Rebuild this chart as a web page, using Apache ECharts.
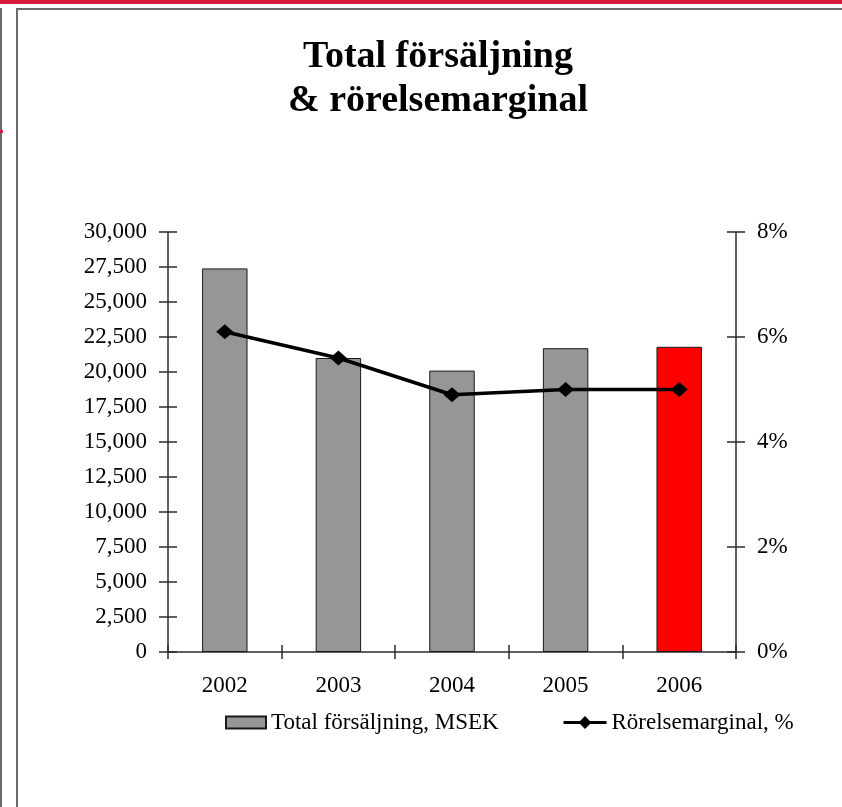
<!DOCTYPE html>
<html>
<head>
<meta charset="utf-8">
<script src="https://cdn.jsdelivr.net/npm/echarts@6/dist/echarts.min.js"></script>
<style>
  html, body { margin: 0; padding: 0; background: #ffffff; }
  #chart { width: 842px; height: 807px; }
</style>
</head>
<body>
<div id="chart"></div>
<script>
// ---- data ----
const categories = ['2002', '2003', '2004', '2005', '2006'];
const salesMSEK = [27400, 21000, 20100, 21700, 21800];
const marginPct = [6.1, 5.6, 4.9, 5.0, 5.0];
const highlightCategory = '2006';
const salesName = 'Total försäljning, MSEK';
const marginName = 'Rörelsemarginal, %';
const titleText = 'Total försäljning\n& rörelsemarginal';
const salesAxisMin = 0, salesAxisMax = 30000, salesAxisStep = 2500;
const pctAxisMin = 0, pctAxisMax = 8, pctAxisStep = 2;

// ---- chart ----
const FONT = '"Liberation Serif", "Times New Roman", serif';
const AX = '#2b2b2b';
const chart = echarts.init(document.getElementById('chart'));

function fmtThousands(v) {
  return String(v).replace(/\B(?=(\d{3})+(?!\d))/g, ',');
}

const labelStyle = { fontFamily: FONT, fontSize: 23, color: '#000' };

function yAx(pos, min, max, step, inside, withLabels, fmt) {
  return {
    type: 'value', position: pos, min: min, max: max, interval: step,
    axisLine: { show: !inside, lineStyle: { color: AX, width: 1.5 } },
    axisTick: { show: true, inside: inside, length: 9, lineStyle: { color: AX, width: 1.5 } },
    axisLabel: Object.assign({ show: withLabels, margin: 21, formatter: fmt }, labelStyle),
    splitLine: { show: false }
  };
}

function xAx(inside, withLabels) {
  return {
    type: 'category', position: 'bottom', data: categories,
    axisLine: { show: !inside, onZero: false, lineStyle: { color: AX, width: 1.5 } },
    axisTick: { show: true, inside: inside, length: 7, lineStyle: { color: AX, width: 1.5 } },
    axisLabel: Object.assign({ show: withLabels, margin: 22 }, labelStyle),
    splitLine: { show: false }
  };
}

const option = {
  backgroundColor: '#ffffff',
  animation: false,
  title: {
    text: titleText,
    left: 438,
    top: 35,
    padding: 0,
    textAlign: 'center',
    textStyle: { fontFamily: FONT, fontSize: 38, fontWeight: 'bold', color: '#000', lineHeight: 44 }
  },
  graphic: [
    { type: 'rect', shape: { x: 0, y: 0, width: 842, height: 4 }, style: { fill: '#d71b3b' }, silent: true },
    { type: 'rect', shape: { x: 0, y: 8, width: 2, height: 799 }, style: { fill: '#6b6b6b' }, silent: true },
    { type: 'rect', shape: { x: 0, y: 130, width: 3, height: 3 }, style: { fill: '#d71b3b' }, silent: true },
    { type: 'rect', shape: { x: 16, y: 8, width: 2, height: 799 }, style: { fill: '#6b6b6b' }, silent: true },
    { type: 'rect', shape: { x: 16, y: 8, width: 826, height: 2 }, style: { fill: '#6b6b6b' }, silent: true }
  ],
  grid: { left: 168, right: 106, top: 232, bottom: 155, containLabel: false },
  legend: [
    {
      data: [{ name: salesName, icon: 'rect' }],
      left: 225, top: 711, padding: 0,
      itemWidth: 40, itemHeight: 12, itemGap: 7,
      textStyle: { fontFamily: FONT, fontSize: 23, color: '#000' }
    },
    {
      data: [{ name: marginName }],
      left: 562, top: 711, padding: 0,
      itemWidth: 43, itemHeight: 16,
      lineStyle: { width: 3, color: '#000' },
      itemStyle: { color: '#000' },
      textStyle: { fontFamily: FONT, fontSize: 23, color: '#000' }
    }
  ],
  xAxis: [xAx(false, true), xAx(true, false)],
  yAxis: [
    yAx('left', salesAxisMin, salesAxisMax, salesAxisStep, false, true, fmtThousands),
    yAx('left', salesAxisMin, salesAxisMax, salesAxisStep, true, false, fmtThousands),
    yAx('right', pctAxisMin, pctAxisMax, pctAxisStep, false, true, '{value}%'),
    yAx('right', pctAxisMin, pctAxisMax, pctAxisStep, true, false, '{value}%')
  ],
  series: [
    {
      name: salesName,
      type: 'bar',
      xAxisIndex: 0, yAxisIndex: 0,
      barWidth: '40%',
      itemStyle: { color: '#969696', borderColor: '#1a1a1a', borderWidth: 1 },
      data: salesMSEK.map(function (v, i) {
        return categories[i] === highlightCategory
          ? { value: v, itemStyle: { color: '#ff0000' } }
          : v;
      }),
      z: 2
    },
    {
      name: marginName,
      type: 'line',
      xAxisIndex: 0, yAxisIndex: 2,
      data: marginPct,
      symbol: 'diamond',
      symbolSize: [17, 15],
      showAllSymbol: true,
      lineStyle: { color: '#000', width: 3.5 },
      itemStyle: { color: '#000' },
      z: 3
    }
  ]
};
chart.setOption(option);
</script>
</body>
</html>
